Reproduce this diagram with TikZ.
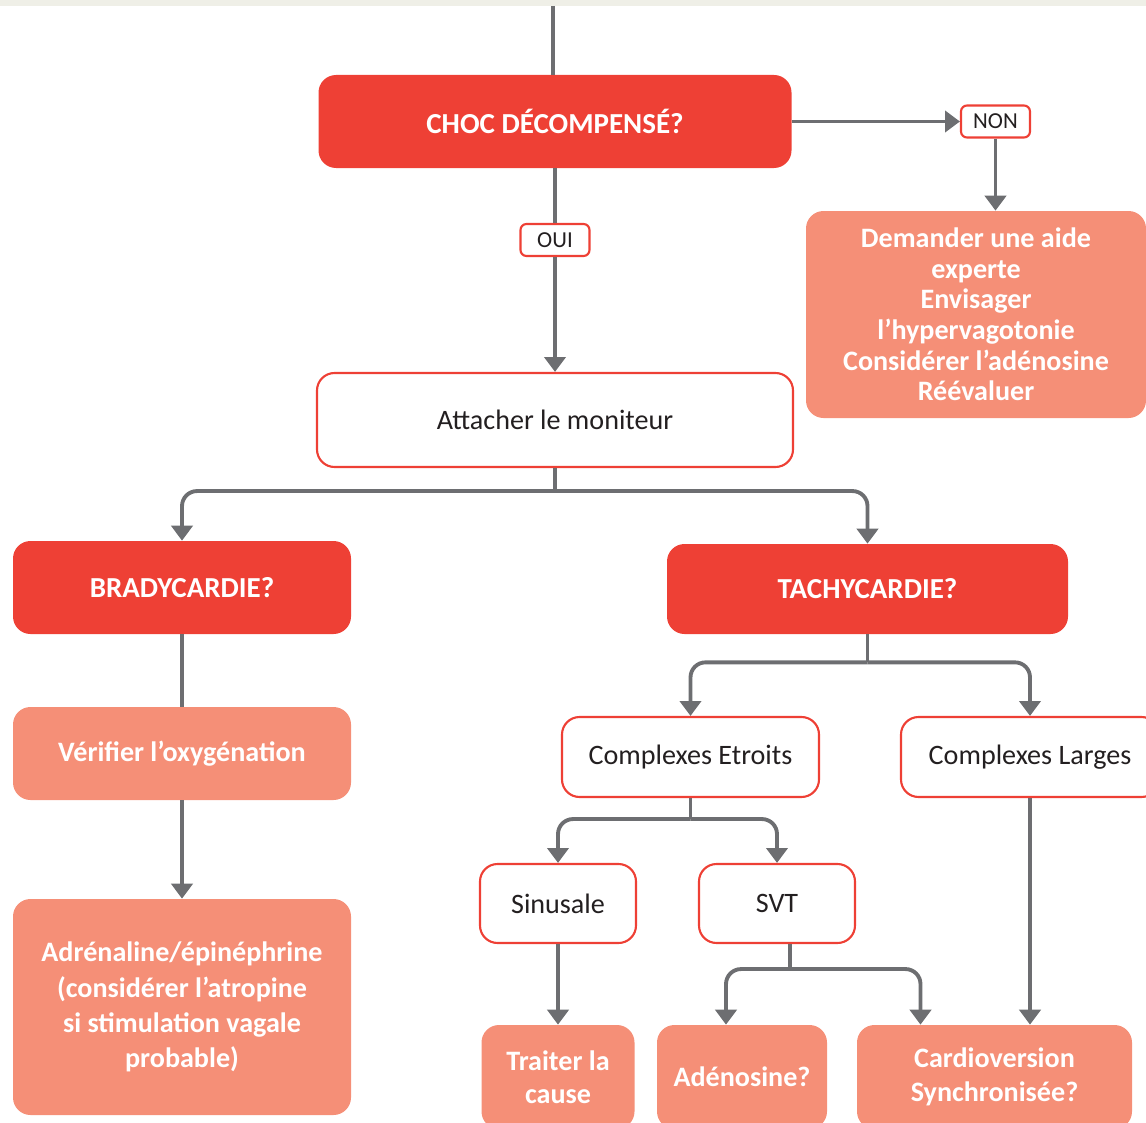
\documentclass[tikz,border=0pt]{standalone}
\usepackage{fontspec}
\setmainfont{Carlito}
\usetikzlibrary{arrows.meta}
\definecolor{chocred}{HTML}{EE4035}
\definecolor{salmon}{HTML}{F58F77}
\definecolor{linkgray}{HTML}{6D6E71}
\definecolor{topband}{HTML}{EFEFE7}
\definecolor{ink}{HTML}{231F20}
\tikzset{
  question/.style={rounded corners=0.35cm, fill=chocred, text=white, align=center, font=\bfseries\fontsize{16.5}{19}\selectfont},
  action/.style={rounded corners=0.35cm, fill=salmon, text=white, align=center, font=\bfseries\fontsize{16}{17.4}\selectfont},
  check/.style={rounded corners=0.35cm, draw=chocred, line width=1.2pt, fill=white, text=ink, align=center, font=\fontsize{16}{19}\selectfont},
  answer/.style={rounded corners=0.12cm, draw=chocred, line width=1.2pt, fill=white, text=ink, inner sep=0pt, minimum width=1.38cm, minimum height=0.64cm, font=\fontsize{13}{15}\selectfont},
  branch/.style={draw=linkgray, line width=2.2pt, rounded corners=0.3cm},
  link/.style={branch, arrows={-Triangle[width=12pt,length=8.5pt]}}
}

\begin{document}
\begin{tikzpicture}
  \clip (0,0) rectangle (22.92,-22.46);
  \fill[topband] (0,0) rectangle (22.92,-0.12);

  \node[question, minimum width=9.46cm, minimum height=1.86cm] at (11.1,-2.43) (choc) {CHOC DÉCOMPENSÉ?};
  \node[answer] at (19.91,-2.43) (non) {NON};
  \node[action, minimum width=6.8cm, minimum height=4.14cm] at (19.52,-6.29) (demander) {Demander une aide\\experte\\Envisager\\l’hypervagotonie\\Considérer l’adénosine\\Réévaluer};
  \node[answer] at (11.1,-4.8) (oui) {OUI};
  \node[check, minimum width=9.52cm, minimum height=1.88cm] at (11.1,-8.4) (attach) {Attacher le moniteur};

  \node[question, minimum width=6.76cm, minimum height=1.86cm] at (3.64,-11.75) (brady) {BRADYCARDIE?};
  \node[question, minimum width=8.02cm, minimum height=1.8cm] at (17.35,-11.78) (tachy) {TACHYCARDIE?};
  \node[action, minimum width=6.76cm, minimum height=1.86cm] at (3.64,-15.07) (verif) {Vérifier l’oxygénation};
  \node[action, minimum width=6.76cm, minimum height=4.32cm, font=\bfseries\fontsize{16}{20}\selectfont] at (3.64,-20.14) (adren) {Adrénaline/épinéphrine\\(considérer l’atropine\\si stimulation vagale\\probable)};

  \node[check, minimum width=5.14cm, minimum height=1.6cm] at (13.81,-15.14) (etroits) {Complexes Etroits};
  \node[check, minimum width=5.16cm, minimum height=1.6cm] at (20.6,-15.14) (larges) {Complexes Larges};
  \node[check, minimum width=3.12cm, minimum height=1.58cm] at (11.16,-18.07) (sinus) {Sinusale};
  \node[check, minimum width=3.12cm, minimum height=1.58cm] at (15.54,-18.07) (svt) {SVT};

  \node[action, minimum width=3.06cm, minimum height=2.08cm, font=\bfseries\fontsize{16}{18.7}\selectfont] at (11.16,-21.54) (traiter) {Traiter la\\cause};
  \node[action, minimum width=3.4cm, minimum height=2.08cm] at (14.84,-21.54) (adeno) {Adénosine?};
  \node[action, minimum width=5.5cm, minimum height=2.08cm, font=\bfseries\fontsize{16}{19}\selectfont] at (19.89,-21.54) (cardio) {Cardioversion\\Synchronisée?};

  \coordinate (entry) at (11.06,-0.12);
  \draw[branch] (entry) -- (entry |- choc.north);
  \draw[link] (choc) -- (non);
  \draw[link] (non.south) -- (non.south |- demander.north);
  \draw[branch] (choc) -- (oui);
  \draw[link] (oui) -- (attach);

  \draw[branch] (attach.south) -- ++(0,-0.46) coordinate (split top);
  \draw[link] (split top) -| (brady.north);
  \draw[link] (split top) -| (tachy.north);

  \draw[branch] (brady) -- (verif);
  \draw[link] (verif) -- (adren);

  \draw[branch] (tachy.south) -- ++(0,-0.56) coordinate (split tachy);
  \draw[link] (split tachy) -| (etroits.north);
  \draw[link] (split tachy) -| (larges.north);

  \draw[branch] (etroits.south) -- ++(0,-0.42) coordinate (split etroits);
  \draw[link] (split etroits) -| (sinus.north);
  \draw[link] (split etroits) -| (svt.north);

  \draw[link] (sinus) -- (traiter);
  \draw[branch] ([xshift=0.26cm]svt.south) -- ++(0,-0.5) coordinate (split svt);
  \draw[link] (split svt) -| ([xshift=-0.32cm]adeno.north);
  \draw[link] (split svt) -| ([xshift=-1.48cm]cardio.north);
  \draw[link] (larges.south) -- (larges.south |- cardio.north);
\end{tikzpicture}
\end{document}
